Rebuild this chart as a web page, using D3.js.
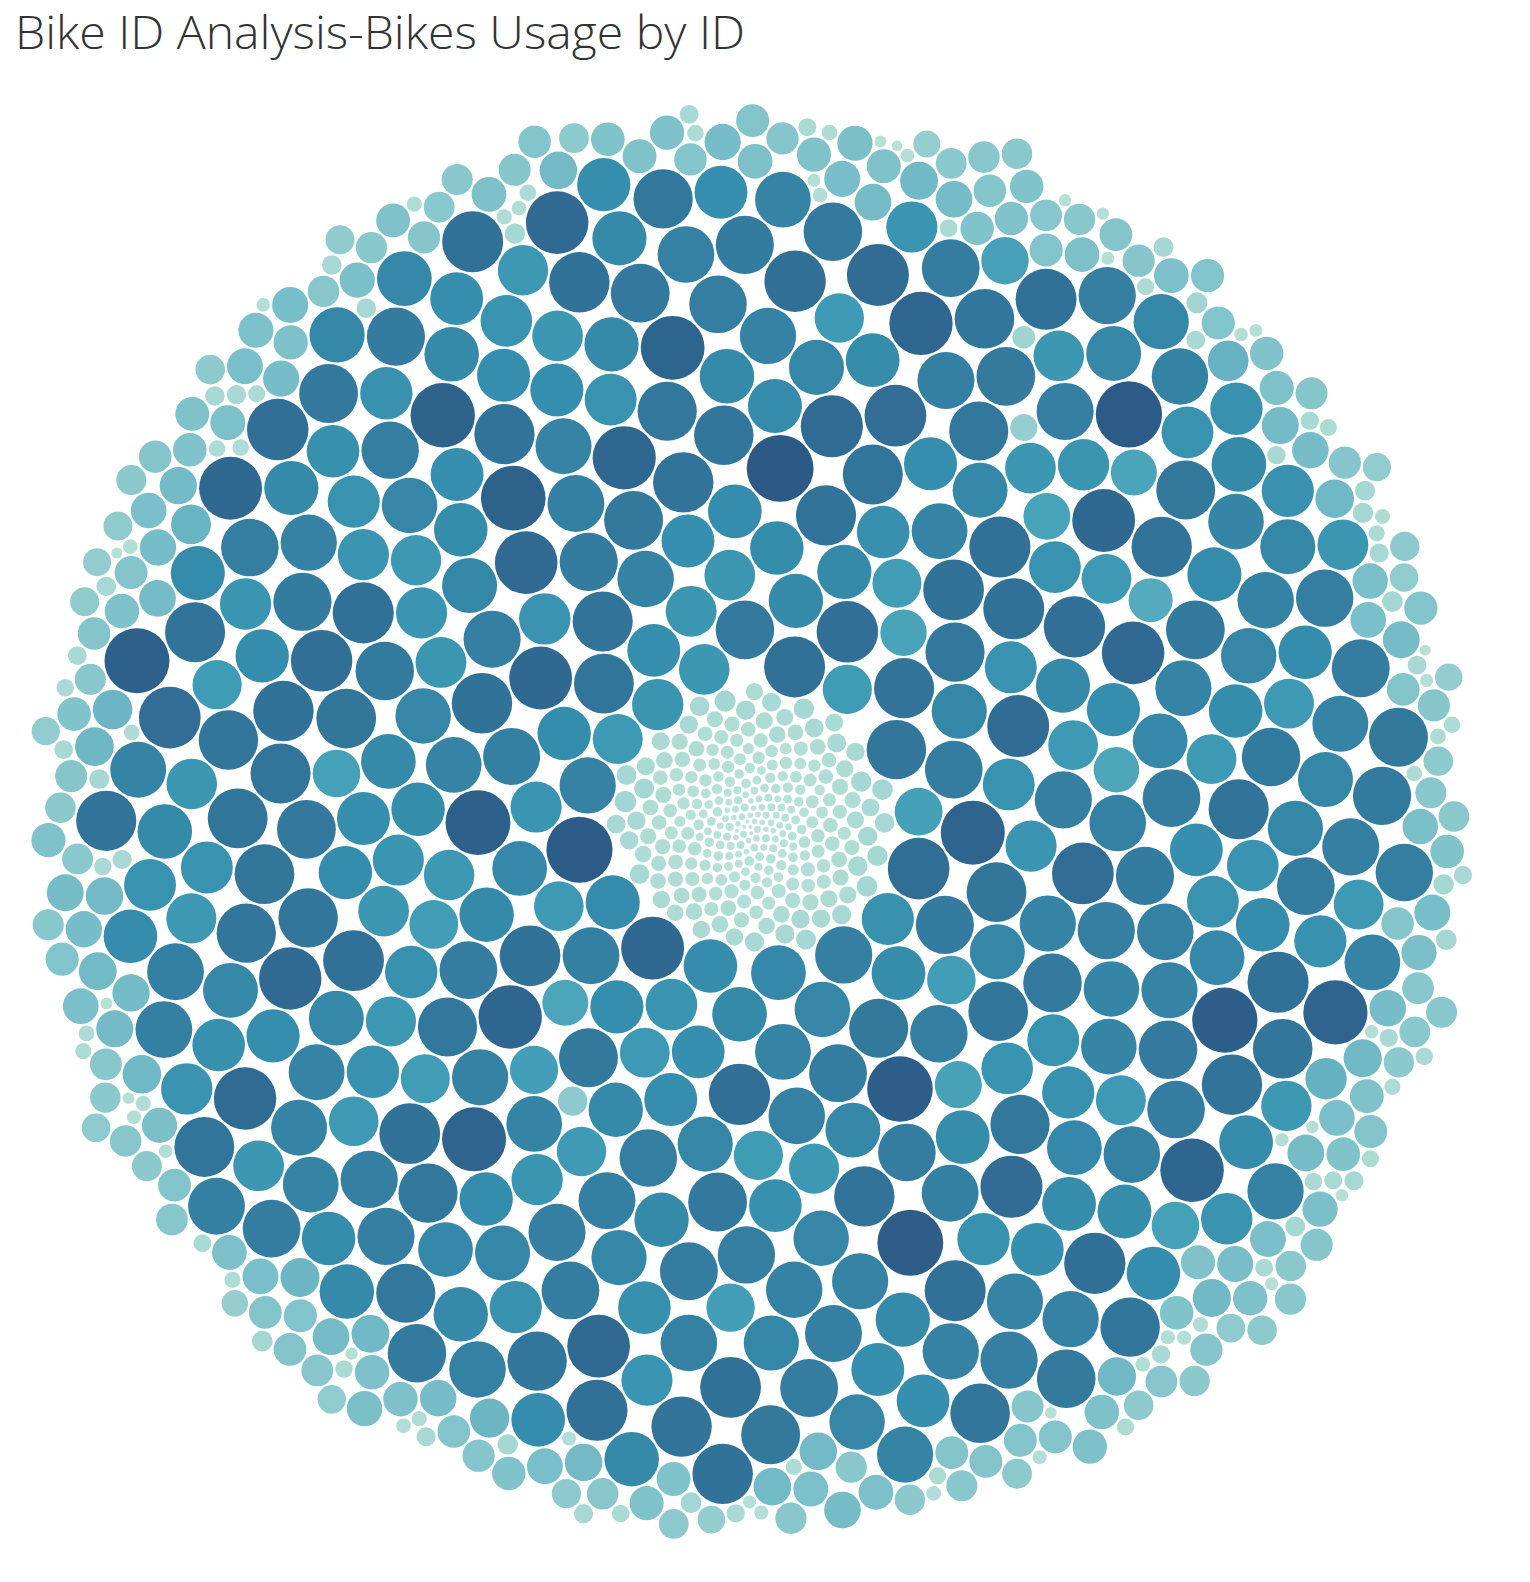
<!DOCTYPE html>
<html>
<head>
<meta charset="utf-8">
<script src="https://cdn.jsdelivr.net/npm/d3@7"></script>
<style>
html,body{margin:0;padding:0;background:#fff;}
svg{display:block;}
</style>
</head>
<body>
<svg id="chart" width="1530" height="1582"></svg>
<script>
// ---- Data: trips per bike (Bike ID usage) ----
const centerBikes = [
1,2,1,2,3,2,1,3,2,3,2,1,3,2,4,2,3,1,3,2,4,3,2,3,4,2,3,4,3,2,4,3,2,4,3,4,3,2,4,3,4,3,4,2,4,3,4,3,4,4,
4,3,5,4,6,3,5,4,5,3,6,4,5,4,6,5,3,5,6,4,5,6,4,5,7,5,4,6,5,7,4,6,5,6,7,4,6,5,7,6,5,7,6,5,7,6,4,7,6,5,6,7,5,7,6,7,
7,9,6,8,10,7,9,8,11,7,9,8,10,7,12,9,8,10,7,11,9,10,8,12,9,11,7,10,9,13,8,10,11,9,12,10,8,11,13,9,10,12,11,9,13,10,11,12,9,14,10,12,11,13,10,11,12,13,11,
12,14,11,13,15,12,14,13,16,11,14,15,13,17,12,15,14,16,13,18,14,15,13,17,16,14,15,18,13,16,17,15,14,19,16,15,17,18,14,16,19,15,17,16,18,15,17,19,16,18,
19,17,22,18,23,20,17,24,19,22,18,25,21,23,19,26,22,18,24,20,27,23,19,25,21,28,20,24,22,26,21,25,29,22,27,24,21,26,25,30,22,27,23,28,25
];

const bandBikes = [
196,172,231,188,259,163,214,191,243,178,167,224,286,195,158,207,236,183,171,248,
201,149,217,186,234,174,211,247,189,161,221,268,182,204,236,169,193,258,141,227,
185,199,241,176,212,154,196,233,275,168,208,187,246,162,219,192,138,229,251,194,
173,216,239,157,203,183,263,198,171,227,214,184,152,236,209,177,241,199,166,281,
221,188,145,232,206,174,249,193,218,162,201,256,181,213,169,227,197,243,158,211,
187,235,204,171,292,192,224,155,209,238,179,198,56,216,261,185,203,164,229,217,
181,246,195,168,223,207,136,244,189,214,273,176,202,231,159,197,226,184,253,171,
212,193,238,164,205,229,183,268,196,148,221,242,175,209,187,233,161,256,202,178,
229,186,217,201,157,244,191,172,226,211,284,166,198,237,182,215,143,206,249,189,
168,213,252,179,197,231,163,219,186,241,205,127,228,194,176,266,208,184,235,199,
247,183,206,171,224,196,258,175,212,239,162,201,189,233,48,218,181,207,271,192,
204,236,179,215,187,161,243,198,226,172,209,255,184,196,229,153,217,238,177,212,
188,221,199,262,174,207,234,168,193,216,278,182,225,201,159,244,191,213,186,230,
167,209,247,185,223,196,139,231,205,178,257,214,189,227,172,203,264,194,218,181,
226,192,174,238,206,167,219,251,183,199,232,158,210,287,176,221,197,242,164,208,
198,245,181,213,163,228,202,186,239,171,216,193,254,179,207,231,148,224,189,214,
176,207,232,194,269,183,211,34,236,197,221,178,243,205,187,226,166,218,201,249,
215,182,198,227,171,238,204,259,186,213,192,147,229,209,176,244,195,168,222,203,
191,234,166,211,247,188,219,179,203,276,194,225,162,208,237,183,214,199,173,231,
207,173,243,196,224,88,215,188,232,199,169,218,256,185,206,227,178,211,194,239
];

const outerBikes = [
104,92,18,87,112,76,95,24,83,101,69,88,12,97,79,108,85,21,73,94,81,16,99,86,72,
91,14,78,96,84,27,70,89,102,75,19,93,82,67,10,88,97,74,22,85,79,92,15,71,95,
83,68,25,90,77,13,86,94,71,20,81,64,98,76,17,87,73,91,11,80,69,26,84,92,75,
18,79,88,66,23,85,72,14,93,78,62,19,82,90,70,28,76,87,12,68,81,21,74,89,65,
77,16,84,71,92,24,67,80,13,75,86,63,20,79,72,9,88,69,27,74,83,15,66,78,22,
81,70,11,86,64,25,76,89,18,68,79,14,73,61,23,84,71,10,77,66,29,82,69,17,75,
63,20,78,72,12,85,67,26,74,60,15,80,70,22,65,76,9,83,68,19,71,62,28,77,13,
69,24,73,64,16,79,58,21,75,67,11,70,62,27,81,66,14,72,57,23,68,74,10,63,20,
76,65,17,59,71,25,66,12,73,61,22,68,55,15,74,63,28,60,70,9,64,57,19,67,24,
58,13,69,62,21,56,71,16,60,65,26,54,67,11,59,63,18,72,53,23,61,14,66,57,20,
12,55,27,64,17,52,10,61,22,58,15,50,25,63,8,56,19,60,13,48,24,54,11,57,16,
21,9,53,18,26,12,49,23,7,55,15,20,10,51,28,13,17,46,8,22,14,52,11,19,24
];

// Tableau "Blue-Teal" sequential palette
const paletteBlueTeal = ['#bce4d8','#aedcd5','#a1d5d2','#95cecf','#89c8cc','#7ec1ca','#72bac6','#66b2c2','#59acbe','#4ba5ba','#419eb6','#3b96b2','#358ead','#3586a7','#347ea1','#32779b','#316f96','#2f6790','#2d608a','#2c5985'];

const titleText = "Bike ID Analysis-Bikes Usage by ID";

// ---- Build ----
const allValues = [...centerBikes, ...bandBikes, ...outerBikes];
const maxV = d3.max(allValues), minV = d3.min(allValues);

const rScale = d3.scaleSqrt().domain([0, 300]).range([0, 31]);
const color = d3.scaleSequential(d3.piecewise(d3.interpolateRgb, paletteBlueTeal)).domain([minV, maxV]);

const pad = 1;
const nodes = allValues.map((v, i) => ({id: i, value: v, r: rScale(v) + pad}));
d3.packSiblings(nodes);
const enc = d3.packEnclose(nodes);

const CX = 750, CY = 823, R = 737;
const xScale = d3.scaleLinear().domain([enc.x - enc.r, enc.x + enc.r]).range([CX - R, CX + R]);
const yScale = d3.scaleLinear().domain([enc.y - enc.r, enc.y + enc.r]).range([CY - R, CY + R]);
const k = R / enc.r;

const svg = d3.select("#chart");

svg.append("text")
  .attr("x", 15).attr("y", 49)
  .attr("font-family", "'Open Sans', 'Noto Sans', sans-serif")
  .attr("font-weight", 300)
  .attr("font-size", 46)
  .attr("fill", "#333333")
  .attr("textLength", 730)
  .attr("lengthAdjust", "spacingAndGlyphs")
  .text(titleText);

svg.append("g")
  .selectAll("circle")
  .data(nodes)
  .join("circle")
  .attr("cx", d => xScale(d.x))
  .attr("cy", d => yScale(d.y))
  .attr("r", d => Math.max(0.5, (d.r - pad) * k))
  .attr("fill", d => color(d.value));
</script>
</body>
</html>
